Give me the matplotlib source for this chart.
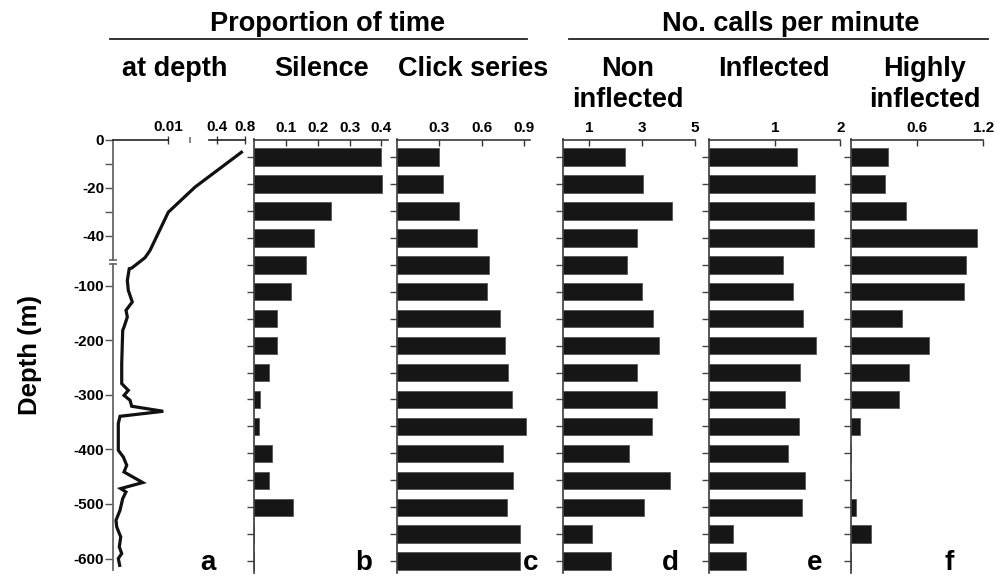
import numpy as np
import matplotlib
matplotlib.use('Agg')
import matplotlib.pyplot as plt

plt.rcParams['font.family'] = ['Liberation Sans', 'DejaVu Sans']
plt.rcParams['font.weight'] = 'bold'

# ---------------- data ----------------
bins = list(range(16))  # 16 depth bins, top to bottom

silence = [0.400, 0.403, 0.242, 0.188, 0.164, 0.117, 0.073, 0.073,
           0.046, 0.018, 0.014, 0.057, 0.045, 0.121, 0.0, 0.0]
click_series = [0.30, 0.326, 0.441, 0.57, 0.654, 0.640, 0.727, 0.762,
                0.786, 0.816, 0.915, 0.748, 0.821, 0.777, 0.873, 0.870]
non_inflected = [2.37, 3.05, 4.14, 2.82, 2.43, 2.99, 3.43, 3.66,
                 2.80, 3.56, 3.39, 2.50, 4.05, 3.08, 1.10, 1.84]
inflected = [1.34, 1.62, 1.60, 1.60, 1.13, 1.28, 1.43, 1.63,
             1.39, 1.15, 1.37, 1.20, 1.46, 1.42, 0.36, 0.56]
highly_inflected = [0.337, 0.313, 0.50, 1.143, 1.04, 1.025, 0.464, 0.711,
                    0.53, 0.437, 0.087, 0.0, 0.0, 0.051, 0.184, 0.0]

profile_depth = [-4.9, -19.8, -30.2, -46.1, -49.1, -67.8, -68.9, -90.3, -108.6,
                 -130.0, -145.2, -157.5, -175.8, -181.9, -242.9, -279.5, -285.7,
                 -291.8, -301.0, -310.0, -321.0, -330.2, -339.4, -352.7, -401.6,
                 -413.9, -429.1, -441.4, -460.8, -471.8, -478.0, -490.1, -511.5,
                 -529.9, -542.1, -560.4, -578.8, -590.8, -600.0, -615.4]
profile_prop = [0.767, 0.188, 0.0100, 0.00667, 0.00576, 0.00335, 0.0029, 0.00255,
                0.00273, 0.00345, 0.00231, 0.00255, 0.00195, 0.00171, 0.00153,
                0.00153, 0.00213, 0.00273, 0.00195, 0.00304, 0.00335, 0.00909,
                0.00122, 0.00091, 0.00091, 0.00182, 0.00244, 0.00195, 0.00535,
                0.00135, 0.00231, 0.00171, 0.00122, 0.00049, 0.00062, 0.00135,
                0.00109, 0.00153, 0.00091, 0.00122]

depth_ticks = [0, -20, -40, -100, -200, -300, -400, -500, -600]
depth_minor = [-10, -30]
a_xticks = [0.01, 0.4, 0.8]

# ---------------- layout helpers ----------------
W, H = 1007, 577
fig = plt.figure(figsize=(W / 100, H / 100), dpi=100)
fig.patch.set_facecolor('white')

def px_axes(l, r, t, b):
    return fig.add_axes([l / W, 1 - b / H, (r - l) / W, (b - t) / H])

def pw(v, xp, fp):
    v = np.asarray(v, dtype=float)
    xp = np.asarray(xp, float); fp = np.asarray(fp, float)
    out = np.interp(v, xp, fp)
    lo = v < xp[0]; hi = v > xp[-1]
    s0 = (fp[1] - fp[0]) / (xp[1] - xp[0]); s1 = (fp[-1] - fp[-2]) / (xp[-1] - xp[-2])
    out = np.where(lo, fp[0] + (v - xp[0]) * s0, out)
    out = np.where(hi, fp[-1] + (v - xp[-1]) * s1, out)
    return out

SPINE = '#3a3a3a'
BAR = '#161616'
TICKFS = 11

# ---------------- panel a (broken axes profile) ----------------
ax_a = px_axes(113.3, 245, 139.5, 570)
XV = [0, 0.01, 0.284, 0.8]; XP = [0, 55, 96, 131.7]
YV = [0, 50, 61, 621]; YP = [0, 120.5, 125, 431]
ax_a.set_xscale('function', functions=(lambda v: pw(v, XV, XP), lambda p: pw(p, XP, XV)))
ax_a.set_yscale('function', functions=(lambda d: -pw(-np.asarray(d), YV, YP),
                                       lambda p: -pw(-np.asarray(p), YP, YV)))
ax_a.plot(profile_prop, profile_depth, color='#111111', lw=2.3, solid_joinstyle='miter',
          solid_capstyle='butt')
ax_a.set_xlim(0, 0.8)
ax_a.set_ylim(-621, 0)
for s in ax_a.spines.values():
    s.set_visible(False)
# custom broken spines
yt = ax_a.get_yaxis_transform()
xt = ax_a.get_xaxis_transform()
ax_a.plot([0, 0], [0, -50], transform=yt, color='#666666', lw=1.3, clip_on=False)
ax_a.plot([0, 0], [-61, -621], transform=yt, color='#666666', lw=1.3, clip_on=False)
ax_a.plot([0, 0], [-50, -61], transform=yt, color='#666666', lw=0, marker='_', ms=6,
          mew=1.2, clip_on=False)
ax_a.plot([0, 0.01], [1, 1], transform=xt, color='#222222', lw=1.2, clip_on=False)
ax_a.plot([0.284, 0.8], [1, 1], transform=xt, color='#222222', lw=1.2, clip_on=False)
ax_a.plot([0.155], [1], transform=xt, color='#666666', lw=0, marker='|', ms=5, mew=1.1,
          clip_on=False)
ax_a.set_yticks(depth_ticks)
ax_a.set_yticklabels([str(t).replace('\u2212', '-') for t in depth_ticks])
ax_a.set_yticks(depth_minor, minor=True)
ax_a.tick_params(axis='y', which='both', direction='out', length=5.5, width=1.0,
                 color='#555555', labelsize=TICKFS, pad=1)
ax_a.xaxis.set_ticks_position('top')
ax_a.set_xticks(a_xticks)
ax_a.set_xticklabels(['0.01', '0.4', '0.8'])
ax_a.xaxis.set_minor_locator(matplotlib.ticker.NullLocator())
ax_a.tick_params(axis='x', which='both', direction='inout', length=6, width=1.0,
                 color='#333333', labelsize=TICKFS, pad=1)
for lab in ax_a.get_yticklabels() + ax_a.get_xticklabels():
    lab.set_fontweight('bold')

# ---------------- bar panels ----------------
panels = [
    (254.3, 387.7, silence, (0, 0.42), [0.1, 0.2, 0.3, 0.4], ['0.1', '0.2', '0.3', '0.4']),
    (396.7, 529.7, click_series, (0, 0.939), [0.3, 0.6, 0.9], ['0.3', '0.6', '0.9']),
    (562.5, 694.8, non_inflected, (0, 5), [1, 3, 5], ['1', '3', '5']),
    (709.3, 840.3, inflected, (0, 2), [1, 2], ['1', '2']),
    (850.8, 983.3, highly_inflected, (0, 1.2), [0.6, 1.2], ['0.6', '1.2']),
]
for (l, r, vals, xl, xt_, xtl) in panels:
    ax = px_axes(l, r, 139.5, 573)
    ax.barh(bins, vals, height=0.65, color=BAR, edgecolor='#555555', linewidth=0.6)
    ax.set_xlim(*xl)
    ax.set_ylim(15.44, -0.649)
    ax.spines['right'].set_visible(False)
    ax.spines['bottom'].set_visible(False)
    ax.spines['left'].set_color(SPINE)
    ax.spines['top'].set_color(SPINE)
    ax.spines['left'].set_linewidth(1.2)
    ax.spines['top'].set_linewidth(1.2)
    ax.set_yticks(bins)
    ax.set_yticklabels([])
    ax.tick_params(axis='y', direction='out', length=5, width=1.0, color='#444444')
    ax.xaxis.set_ticks_position('top')
    ax.set_xticks(xt_)
    ax.set_xticklabels(xtl)
    ax.tick_params(axis='x', direction='in', length=4.5, width=1.0, color='#333333',
                   labelsize=TICKFS, pad=3)
    for lab in ax.get_xticklabels():
        lab.set_fontweight('bold')

# ---------------- texts ----------------
def ftext(x, y, s, **kw):
    kw.setdefault('fontsize', 19.5)
    kw.setdefault('fontweight', 'bold')
    kw.setdefault('ha', 'center')
    kw.setdefault('va', 'baseline')
    fig.text(x / W, 1 - y / H, s, **kw)

ftext(328, 31, 'Proportion of time')
ftext(791, 31, 'No. calls per minute')
fig.add_artist(plt.Line2D([110 / W, 527 / W], [1 - 38.5 / H] * 2, color='#222222', lw=1.3))
fig.add_artist(plt.Line2D([569 / W, 988 / W], [1 - 38.5 / H] * 2, color='#222222', lw=1.3))

ftext(175, 76, 'at depth')
ftext(322, 76, 'Silence')
ftext(473, 76, 'Click series')
ftext(628, 76, 'Non')
ftext(628, 107, 'inflected')
ftext(774, 76, 'Inflected')
ftext(925, 76, 'Highly')
ftext(925, 107, 'inflected')

ftext(30, 355, 'Depth (m)', rotation=90, va='center', fontsize=18.5)

for x, s in [(208, 'a'), (364, 'b'), (531, 'c'), (670, 'd'), (815, 'e'), (949.5, 'f')]:
    ftext(x, 570, s, fontsize=20)

fig.savefig('out.png', dpi=100, facecolor='white')
